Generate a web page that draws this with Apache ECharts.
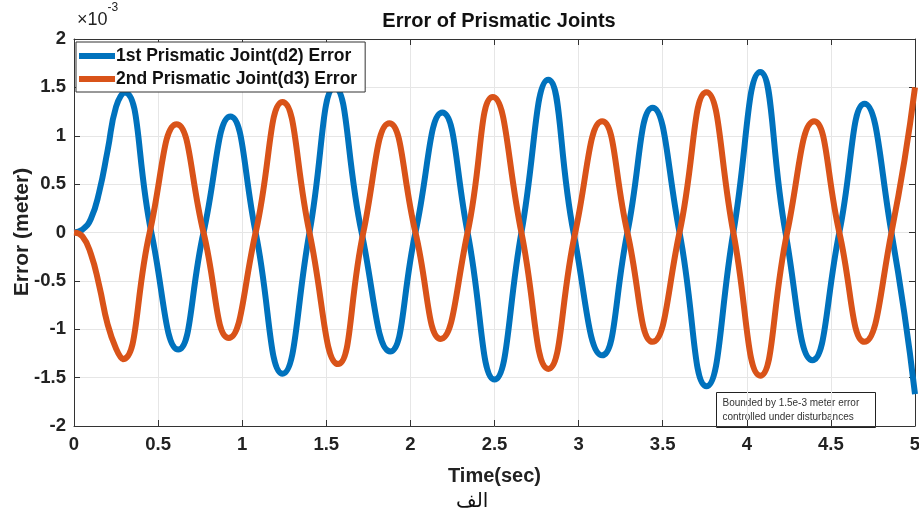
<!DOCTYPE html>
<html>
<head>
<meta charset="utf-8">
<script src="https://cdn.jsdelivr.net/npm/echarts@6/dist/echarts.min.js"></script>
<style>
	html, body {margin: 0; padding: 0; background: #fff;}
	#chart-area {width: 919px; height: 515px;}
</style>
</head>
<body>
<div id="chart-area"></div>
<script>
// values, units of 1e-3 meter
var d2Time = [0, 0.05, 0.1, 0.15, 0.2, 0.25, 0.30, 0.46, 0.62, 0.77, 0.93, 1.08, 1.24, 1.40, 1.55, 1.71, 1.88, 2.03, 2.19, 2.34, 2.50, 2.66, 2.82, 2.97, 3.14, 3.29, 3.44, 3.60, 3.76, 3.92, 4.08, 4.23, 4.39, 4.55, 4.70, 4.86, 5.0];
var d2Error = [0, 0.03, 0.14, 0.42, 0.85, 1.3, 1.45, 0, -1.21, 0, 1.20, 0, -1.46, 0, 1.50, 0, -1.23, 0, 1.24, 0, -1.52, 0, 1.58, 0, -1.27, 0, 1.29, 0, -1.59, 0, 1.66, 0, -1.32, 0, 1.33, 0, -1.67];
var d3Time = [0, 0.05, 0.1, 0.15, 0.2, 0.25, 0.29, 0.45, 0.61, 0.77, 0.92, 1.08, 1.24, 1.40, 1.57, 1.72, 1.875, 2.03, 2.18, 2.34, 2.49, 2.66, 2.82, 2.98, 3.14, 3.29, 3.44, 3.60, 3.76, 3.92, 4.08, 4.24, 4.40, 4.55, 4.70, 4.86, 5.0];
var d3Error = [0, -0.04, -0.22, -0.55, -0.95, -1.2, -1.31, 0, 1.12, 0, -1.09, 0, 1.35, 0, -1.36, 0, 1.13, 0, -1.10, 0, 1.40, 0, -1.41, 0, 1.15, 0, -1.13, 0, 1.45, 0, -1.48, 0, 1.15, 0, -1.13, 0, 1.5];
var xTicks = ['0', '0.5', '1', '1.5', '2', '2.5', '3', '3.5', '4', '4.5', '5'];
var yTicks = ['-2', '-1.5', '-1', '-0.5', '0', '0.5', '1', '1.5', '2'];

function pairs(t, v){
	var out = [];
	for(var i = 0; i < t.length; i++){
		out.push([t[i], v[i]]);
	}
	return out;
}

var font = 'Liberation Sans, Arial, sans-serif';
var axisLine = {show: true, onZero: false, lineStyle: {color: '#333'}};
var axisTick = {show: true, inside: true, length: 6, lineStyle: {color: '#333'}};
var myChart = echarts.init(document.getElementById('chart-area'));
var option = {
	animation: false,
	title: {
		text: 'Error of Prismatic Joints',
		left: 494,
		top: 6,
		textAlign: 'center',
		textStyle: {fontFamily: font, fontSize: 20, fontWeight: 'bold', color: '#111'}
	},
	legend: {
		orient: 'vertical',
		left: 76,
		top: 42,
		padding: [5, 8, 4, 3],
		itemGap: 5,
		itemWidth: 36,
		itemHeight: 6,
		icon: 'rect',
		backgroundColor: '#fff',
		borderColor: '#333',
		borderWidth: 1,
		textStyle: {fontFamily: font, fontSize: 17.5, fontWeight: 'bold', color: '#111', padding: [0, 0, 0, -4]},
		data: ['1st Prismatic Joint(d2) Error', '2nd Prismatic Joint(d3) Error']
	},
	grid: {left: 74, right: 4, top: 39, bottom: 89, outerBoundsMode: 'none'},
	xAxis: [{
		type: 'value',
		min: 0, max: 5, interval: 0.5,
		name: 'Time(sec)',
		nameLocation: 'middle',
		nameGap: 40,
		nameTextStyle: {fontFamily: font, fontSize: 20, fontWeight: 'bold', color: '#222'},
		axisLine: axisLine,
		axisTick: axisTick,
		axisLabel: {fontFamily: font, fontSize: 18.5, fontWeight: 'bold', color: '#222', margin: 9,
			formatter: function(v){ return xTicks[Math.round(v * 2)]; }},
		splitLine: {show: true, lineStyle: {color: '#e6e6e6'}}
	}, {
		type: 'value', position: 'top',
		min: 0, max: 5, interval: 0.5,
		axisLine: axisLine,
		axisTick: axisTick,
		axisLabel: {show: false},
		splitLine: {show: false}
	}],
	yAxis: [{
		type: 'value',
		min: -2, max: 2, interval: 0.5,
		axisLine: axisLine,
		axisTick: axisTick,
		axisLabel: {fontFamily: font, fontSize: 18.5, fontWeight: 'bold', color: '#222', margin: 8,
			formatter: function(v){ return yTicks[Math.round((v + 2) * 2)]; }},
		splitLine: {show: true, lineStyle: {color: '#e6e6e6'}}
	}, {
		type: 'value', position: 'right',
		min: -2, max: 2, interval: 0.5,
		axisLine: axisLine,
		axisTick: axisTick,
		axisLabel: {show: false},
		splitLine: {show: false}
	}],
	graphic: [
		{
			// y axis name, placed by hand so v6 does not push it to the edge
			type: 'text', x: 22, y: 232, rotation: Math.PI / 2,
			style: {text: 'Error (meter)', fontFamily: font, fontSize: 21, fontWeight: 'bold',
				fill: '#222', align: 'center', verticalAlign: 'middle'}
		},
		{
			type: 'text', left: 77, top: 2,
			style: {
				text: '{a|×10}{b|-3}',
				rich: {
					a: {fontFamily: font, fontSize: 18, fill: '#222', padding: [9, 0, 0, 0]},
					b: {fontFamily: font, fontSize: 12, fill: '#222', verticalAlign: 'top'}
				}
			}
		},
		{
			type: 'group', left: 716, top: 392, z: 100,
			children: [
				{type: 'rect', shape: {x: 0, y: 0, width: 159, height: 35},
					style: {fill: '#fff', stroke: '#222', lineWidth: 1}},
				{type: 'text', x: 6, y: 4,
					style: {text: 'Bounded by 1.5e-3 meter error\ncontrolled under disturbances',
						fontFamily: font, fontSize: 10, lineHeight: 14, fill: '#333'}}
			]
		},
		{
			type: 'text', left: 456, top: 492,
			style: {text: 'الف', fontFamily: 'DejaVu Sans, sans-serif', fontSize: 20, fill: '#111'}
		}
	],
	series: [
		{
			name: '1st Prismatic Joint(d2) Error',
			type: 'line',
			smooth: 0.5,
			symbol: 'none',
			color: '#0072BD',
			lineStyle: {width: 6},
			data: pairs(d2Time, d2Error)
		},
		{
			name: '2nd Prismatic Joint(d3) Error',
			type: 'line',
			smooth: 0.5,
			symbol: 'none',
			color: '#D95319',
			lineStyle: {width: 6},
			data: pairs(d3Time, d3Error)
		}
	]
};
myChart.setOption(option);
</script>
</body>
</html>
